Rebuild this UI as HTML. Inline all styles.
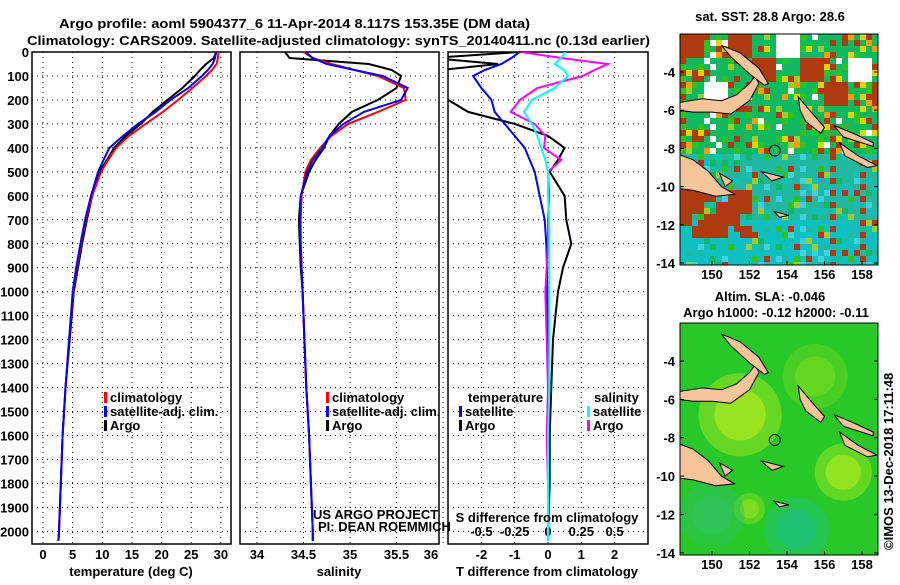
<!DOCTYPE html>
<html><head><meta charset="utf-8">
<style>
body{margin:0;background:#fff;width:900px;height:580px;overflow:hidden;font-family:"Liberation Sans",sans-serif;}
svg text{font-family:"Liberation Sans",sans-serif;font-weight:bold;font-size:13px;fill:#000}
</style></head>
<body>
<svg id="c" width="900" height="580" xmlns="http://www.w3.org/2000/svg">
<text x="59" y="28" font-size="16.5" textLength="471" lengthAdjust="spacingAndGlyphs">Argo profile: aoml 5904377_6 11-Apr-2014 8.117S 153.35E (DM data)</text>
<text x="27" y="45" font-size="16.5" textLength="623" lengthAdjust="spacingAndGlyphs">Climatology: CARS2009. Satellite-adjusted climatology: synTS_20140411.nc (0.13d earlier)</text>
<g id="p1"></g>
<g id="p2"></g>
<g id="p3"></g>
<g id="maps"></g>
<text x="893" y="550" transform="rotate(-90 893 550)" font-weight="normal" font-size="12">©IMOS 13-Dec-2018 17:11:48</text>
</svg>
<script>
const depths=[0,25,50,75,100,150,200,250,300,350,400,450,500,600,700,800,900,1000,1200,1400,1600,1800,2000,2040];
const tClim=[29.6,29.5,29.3,28.5,27.5,25.2,22.8,20.2,17.3,14.5,12.3,11,9.8,8.3,7.2,6.4,5.7,5.1,4.4,3.8,3.3,3,2.7,2.6];
const tSat=[29.2,29.0,28.6,27.8,26.8,24.5,21.5,19.0,16.0,13.5,11.2,10.2,9.3,8.1,7.1,6.3,5.6,5.0,4.4,3.8,3.3,3,2.7,2.6];
const tArgo=[29.2,28.8,27.5,26.5,25.6,23.5,21,18.5,16.5,14,12,10.8,9.5,8.3,7.4,6.6,5.9,5.2,4.5,3.8,3.3,3,2.7,2.6];
const sClim=[34.5,34.6,34.8,35.05,35.3,35.58,35.6,35.3,34.98,34.8,34.68,34.58,34.52,34.48,34.47,34.47,34.48,34.49,34.51,34.53,34.56,34.58,34.6,34.6];
const sSat=[34.52,34.6,34.75,35.05,35.35,35.62,35.55,35.15,34.93,34.78,34.7,34.6,34.54,34.47,34.46,34.47,34.48,34.49,34.51,34.53,34.56,34.58,34.6,34.6];
const sArgo=[34.3,34.35,35.2,35.45,35.55,35.5,35.3,35.02,34.88,34.78,34.72,34.63,34.56,34.47,34.45,34.46,34.47,34.49,34.51,34.53,34.56,34.58,34.6,34.6];
const dTSat=[-0.85,-1.1,-1.4,-1.9,-2.25,-2.0,-1.7,-1.6,-1.3,-1.0,-0.7,-0.55,-0.4,-0.25,-0.1,-0.05,-0.03,-0.02,0,0,0,0,0,0];
const dTArgo=[-0.85,-3.5,-1.5,-3.2,-3.2,-3.3,-3.0,-2.4,-1.0,0.0,0.5,0.3,0.05,0.5,0.55,0.7,0.45,0.3,0.15,0.1,0.05,0.05,0,0];
const dSSat=[0.13,0.1,0.05,0.12,0.15,0.05,-0.12,-0.18,-0.12,-0.08,-0.05,-0.02,0,0,0.01,0.01,0.01,0.01,0.01,0.01,0,0,0,0];
const dSArgo=[-0.2,0.1,0.45,0.35,0.26,-0.08,-0.21,-0.28,-0.1,-0.02,-0.03,0.1,0.0,0.01,0.0,0.0,-0.01,-0.02,-0.01,0,-0.01,0,0,0];
const tTicks=[0,5,10,15,20,25,30];
const sTicks=[34,34.5,35,35.5,36];
const dTicks=[-2,-1,0,1,2];
const dSTickVals=[-0.5,-0.25,0,0.25,0.5];
const dSTickLabels=["-0.5","-0.25","0","0.25","0.5"];
const yTicks=[0,100,200,300,400,500,600,700,800,900,1000,1100,1200,1300,1400,1500,1600,1700,1800,1900,2000];

const NS='http://www.w3.org/2000/svg';
const svg=document.getElementById('c');
function mk(par,tag,at){const e=document.createElementNS(NS,tag);for(const k in at)e.setAttribute(k,at[k]);par.appendChild(e);return e;}
const Y0=52,Y1=544;
const yS=d=>Y0+d*0.2397;
function panel(g,x0,x1,xs,ticks,labels){
  const fr=mk(g,'rect',{x:x0,y:Y0,width:x1-x0,height:Y1-Y0,fill:'none',stroke:'#000','stroke-width':1.5});
  
  
  yTicks.forEach(d=>{const l=mk(g,'line',{x1:x0,x2:x1,y1:yS(d),y2:yS(d),stroke:'#000','stroke-dasharray':'1 4'});
    
    });
  ticks.forEach((v,i)=>{const x=xs(v);
    const l=mk(g,'line',{x1:x,x2:x,y1:Y0,y2:Y1,stroke:'#000','stroke-dasharray':'1 4'});
    
    
    const t=mk(g,'text',{x:Math.min(x,x1-8),y:559,'text-anchor':'middle'});t.textContent=labels?labels[i]:v;
    
    });
}
function line(g,xs,vals,col,name,w){
  const p=depths.map((d,i)=>xs(vals[i]).toFixed(1)+','+yS(d).toFixed(1)).join(' ');
  const e=mk(g,'polyline',{points:p,fill:'none',stroke:col,'stroke-width':w||2});
  
  
}
function txt(g,x,y,s,name,a){const t=mk(g,'text',{x:x,y:y,'text-anchor':a||'start'});t.textContent=s;
  
  return t;}
function leg(g,x,y,col,s){const r=mk(g,'rect',{x:x,y:y-10,width:3,height:11,fill:col});
  
  
  txt(g,x+6,y,s,'legend-entry');}

// panel 1
const p1=document.getElementById('p1');
const xT=v=>43+v*5.93;
panel(p1,32,231,xT,tTicks);
yTicks.forEach(d=>txt(p1,29,yS(d)+5,d,'y-tick-label','end'));
line(p1,xT,tArgo,'#000','argo-temperature-line');
line(p1,xT,tClim,'#f00','climatology-temperature-line');
line(p1,xT,tSat,'#00f','satellite-temperature-line');
leg(p1,104,402,'#f00','climatology');leg(p1,104,416,'#00f','satellite-adj. clim.');leg(p1,104,430,'#000','Argo');
txt(p1,131,576,'temperature (deg C)','x-axis-title','middle');

// panel 2
const p2=document.getElementById('p2');
const xSal=v=>257+(v-34)*93;
panel(p2,240,439,xSal,sTicks);
line(p2,xSal,sArgo,'#000','argo-salinity-line');
line(p2,xSal,sClim,'#f00','climatology-salinity-line');
line(p2,xSal,sSat,'#00f','satellite-salinity-line');
leg(p2,326,402,'#f00','climatology');leg(p2,326,416,'#00f','satellite-adj. clim.');leg(p2,326,430,'#000','Argo');
const c1=txt(p2,313,519,'US ARGO PROJECT','project-credit');c1.setAttribute('font-weight','normal');c1.setAttribute('font-size','12');
const c2=txt(p2,318,531,'PI: DEAN ROEMMICH','pi-credit');c2.setAttribute('font-weight','normal');c2.setAttribute('font-size','12');
txt(p2,339,576,'salinity','x-axis-title','middle');

// panel 3
const p3=document.getElementById('p3');
const xD=v=>548+v*33.3;
const xDS=v=>548+v*133.2;
const cl=mk(p3,'clipPath',{id:'cp3'});mk(cl,'rect',{x:448,y:Y0,width:200,height:Y1-Y0});
panel(p3,448,648,xD,dTicks);
dSTickVals.forEach((v,i)=>txt(p3,xDS(v),536,dSTickLabels[i],'s-diff-tick-label','middle'));
const lg=mk(p3,'g',{'clip-path':'url(#cp3)'});
line(lg,xD,dTArgo,'#000','argo-temperature-diff-line');
line(lg,xD,dTSat,'#00f','satellite-temperature-diff-line');
line(lg,xDS,dSArgo,'#f0f','argo-salinity-diff-line');
line(lg,xDS,dSSat,'#0ff','satellite-salinity-diff-line');
txt(p3,468,402,'temperature','legend-title');txt(p3,594,402,'salinity','legend-title');
leg(p3,459,416,'#00f','satellite');leg(p3,459,430,'#000','Argo');
leg(p3,587,416,'#0ff','satellite');leg(p3,587,430,'#f0f','Argo');
txt(p3,547,522,'S difference from climatology','s-axis-title','middle');
txt(p3,547,576,'T difference from climatology','x-axis-title','middle');

// maps
const mg=document.getElementById('maps');
const lands=[
 [[148.2,-5.6],[149.5,-5.4],[150.5,-5.5],[151.3,-5.2],[152,-4.6],[152.3,-4.2],[152.5,-4.6],[152,-5.5],[151,-6.2],[150,-6.1],[149,-6.1],[148.2,-6.0]],
 [[150.5,-2.6],[151.5,-3.0],[152.5,-3.8],[153,-4.6],[152.8,-4.7],[152,-4.1],[151,-3.2]],
 [[154.6,-5.3],[155.2,-6.0],[156,-6.9],[155.8,-7.2],[155,-6.6],[154.7,-6.0]],
 [[156.5,-6.8],[157.5,-7.2],[158.6,-7.7],[158.6,-7.9],[157,-7.4]],
 [[156.8,-7.7],[157.8,-8.4],[158.8,-8.9],[158.3,-9.0],[157.1,-8.4]],
 [[148.2,-8.3],[149,-8.6],[149.8,-9.2],[150.5,-10.0],[151.2,-10.4],[150.2,-10.5],[149,-10.2],[148.2,-10.1]],
 [[152.6,-9.2],[153.8,-9.5],[153.2,-9.7]],
 [[150.4,-9.3],[151.1,-9.7],[150.7,-10.0]],
 [[153.3,-11.3],[154.1,-11.5],[153.6,-11.6]]
];
function map(y0,h,top,name){
  const lx=lon=>712+(lon-150)*18.75;
  const ly=lat=>y0+38+(-4-lat)*19.1*(h/231);
  const g=mk(mg,'g',{});
  const cp=mk(g,'clipPath',{id:'m'+y0});mk(cp,'rect',{x:680,y:y0,width:198,height:h});
  const gg=mk(g,'g',{'clip-path':'url(#m'+y0+')'});
  if(top){
    mk(gg,'rect',{x:680,y:y0,width:198,height:h,fill:'#10b860'});
    const upper=['#b03a10','#d8d800','#ffffff','#9acd32','#30c020','#10b860','#f0a000','#30c020','#10b860','#b03a10'];
    const lower=['#10c0c0','#20b8a0','#10b860','#30c020','#10c0c0','#b03a10','#9acd32','#40d0e0'];
    const cs=6;
    for(let i=0;i<33;i++)for(let j=0;j<39;j++){
      const x=680+i*cs,y=y0+j*cs;
      const k=((i*7+j*13+((i*j)%5))*31+(i>>1)*17+(j>>1)*11)%19;
      let c;
      if(j<20){
        const blk=((i>>2)*5+(j>>2)*3)%9;
        if(blk<2 && j<13) c='#b03a10'; else if(blk==2 && j<12) c='#ffffff';
        else c=k<10?upper[k]:'#10b860';
      } else {
        if(j>=26 && j<34 && i<12 && ((i>>1)+(j>>1))%4!=0) c='#b03a10';
        else c=k<8?lower[k]:(j>30?'#10c0c0':'#20b8a0');
      }
      mk(gg,'rect',{x:x,y:y,width:cs,height:cs,fill:c});
    }
  } else {
    mk(gg,'rect',{x:680,y:y0,width:198,height:h,fill:'#28c828'});
    const blobs=[[151.5,-6.8,32,'#b0e820'],[157,-9.8,22,'#a8e820'],[152,-11.7,12,'#90e020'],[155.5,-4.8,25,'#70d820'],[154.5,-12.8,25,'#20c080'],[150,-12,25,'#30c060']];
    blobs.forEach(b=>{mk(gg,'circle',{cx:lx(b[0]),cy:ly(b[1]),r:b[2]*1.3,fill:b[3],opacity:0.45});mk(gg,'circle',{cx:lx(b[0]),cy:ly(b[1]),r:b[2]*0.8,fill:b[3],opacity:0.7});});
  }
  lands.forEach(L=>{
    const p=mk(gg,'polygon',{points:L.map(q=>lx(q[0]).toFixed(1)+','+ly(q[1]).toFixed(1)).join(' '),fill:'#f5c59a',stroke:'#000','stroke-width':1});
    
    
  });
  const c=mk(g,'circle',{cx:lx(153.35),cy:ly(-8.117),r:5.5,fill:'none',stroke:'#000'});
  
  mk(g,'rect',{x:680,y:y0,width:198,height:h,fill:'none',stroke:'#000'});
  [-4,-6,-8,-10,-12,-14].forEach(v=>{const y=ly(v);txt(g,675,y+5,String(v),'map-lat-label','end');mk(g,'line',{x1:680,x2:684,y1:y,y2:y,stroke:'#000'});mk(g,'line',{x1:874,x2:878,y1:y,y2:y,stroke:'#000'});});
  [150,152,154,156,158].forEach(v=>{txt(g,lx(v),y0+h+14,String(v),'map-lon-label','middle');mk(g,'line',{x1:lx(v),x2:lx(v),y1:y0+h-4,y2:y0+h,stroke:'#000'});});
}
map(34,231,true,'sst-map');
map(323,232,false,'sla-map');
txt(mg,770,21,'sat. SST: 28.8 Argo: 28.6','sst-map-title','middle');
txt(mg,770,301,'Altim. SLA: -0.046','sla-map-title','middle');
txt(mg,776,317,'Argo h1000: -0.12 h2000: -0.11','argo-height-label','middle');
</script>
</body></html>
